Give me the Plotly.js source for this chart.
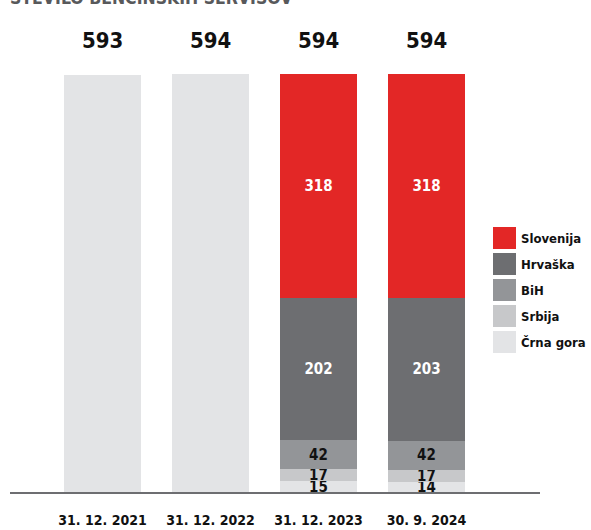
<!DOCTYPE html>
<html>
<head>
<meta charset="utf-8">
<script src="https://cdn.plot.ly/plotly-3.0.1.min.js"></script>
<style>html,body{margin:0;padding:0;background:#fff;}#chart{width:591px;height:530px;}</style>
</head>
<body>
<div id="chart"></div>
<script>
// ---- data ----
const dates = ["31. 12. 2021", "31. 12. 2022", "31. 12. 2023", "30. 9. 2024"];
const totals = [593, 594, 594, 594];
const totalOnly = [593, 594, null, null]; // years without country breakdown
const countries = ["Slovenija", "Hrvaška", "BiH", "Srbija", "Črna gora"];
const slovenija = [null, null, 318, 318];
const hrvaska = [null, null, 202, 203];
const bih = [null, null, 42, 42];
const srbija = [null, null, 17, 17];
const crnaGora = [null, null, 15, 14];
const titleText = "ŠTEVILO BENCINSKIH SERVISOV";

// ---- styles ----
const FONT = "'DejaVu Sans Condensed', 'Liberation Sans Narrow', 'Arial Narrow', sans-serif";
const colors = {
  "Slovenija": "#e32726",
  "Hrvaška": "#6d6e71",
  "BiH": "#939598",
  "Srbija": "#c7c8ca",
  "Črna gora": "#e3e4e6"
};
const textColors = {
  "Slovenija": "#ffffff",
  "Hrvaška": "#ffffff",
  "BiH": "#111111",
  "Srbija": "#111111",
  "Črna gora": "#111111"
};
const seriesVals = {
  "Slovenija": slovenija,
  "Hrvaška": hrvaska,
  "BiH": bih,
  "Srbija": srbija,
  "Črna gora": crnaGora
};

const xIdx = dates.map((d, i) => i);
const traces = [];
traces.push({
  type: "bar", x: xIdx, y: totalOnly, name: "total",
  marker: {color: colors["Črna gora"]}, showlegend: false, hoverinfo: "skip"
});
// stack from bottom: Črna gora, Srbija, BiH, Hrvaška, Slovenija
countries.slice().reverse().forEach(c => {
  const big = (c === "Slovenija" || c === "Hrvaška");
  traces.push({
    type: "bar", x: xIdx, y: seriesVals[c], name: c,
    marker: {color: colors[c]},
    text: seriesVals[c].map(v => v == null ? "" : String(v)),
    textposition: "inside", insidetextanchor: "middle", constraintext: "none",
    textfont: {family: FONT, size: big ? 15 : 15, color: textColors[c], weight: 700},
    cliponaxis: false,
    showlegend: false
  });
});

const annotations = [];
const shapes = [];
// totals above bars
totals.forEach((t, i) => {
  annotations.push({
    x: i, xref: "x", y: 1.081, yref: "paper", text: String(t), showarrow: false,
    yanchor: "middle", xanchor: "center",
    font: {family: FONT, size: 22, color: "#111111", weight: 700}
  });
});
// partially cut title at top edge
annotations.push({
  x: 0, xref: "paper", xshift: -2, y: 1.152, yref: "paper", text: titleText, showarrow: false,
  xanchor: "left", yanchor: "bottom",
  font: {family: FONT, size: 17.5, color: "#58595b", weight: 700}
});
// manual legend
const H = 418, base = 492, L = 10, W = 530;
countries.forEach((c, k) => {
  const top = 227 + k * 26, bot = top + 22;
  shapes.push({
    type: "rect", xref: "paper", yref: "paper",
    x0: (493 - L) / W, x1: (516 - L) / W,
    y0: (base - bot) / H, y1: (base - top) / H,
    fillcolor: colors[c], line: {width: 0}
  });
  annotations.push({
    x: (519 - L) / W, xref: "paper", y: (base - (top + 11)) / H, yref: "paper",
    text: c, showarrow: false, xanchor: "left", yanchor: "middle",
    font: {family: FONT, size: 13, color: "#111111", weight: 700}
  });
});

const layout = {
  width: 591, height: 530,
  margin: {l: 10, r: 51, t: 74, b: 38},
  paper_bgcolor: "#ffffff", plot_bgcolor: "#ffffff",
  barmode: "stack", bargap: 0.287,
  showlegend: false,
  xaxis: {
    range: [-0.856, 4.051], tickvals: xIdx, ticktext: dates,
    showgrid: false, zeroline: false, showline: true, linecolor: "#6d6e71", linewidth: 2,
    ticks: "", ticklabelstandoff: 14,
    tickfont: {family: FONT, size: 14, color: "#111111", weight: 700}
  },
  yaxis: {
    range: [0, 594], visible: false, showgrid: false, zeroline: false
  },
  annotations: annotations,
  shapes: shapes
};

Plotly.newPlot("chart", traces, layout, {displayModeBar: false, staticPlot: true});
</script>
</body>
</html>
